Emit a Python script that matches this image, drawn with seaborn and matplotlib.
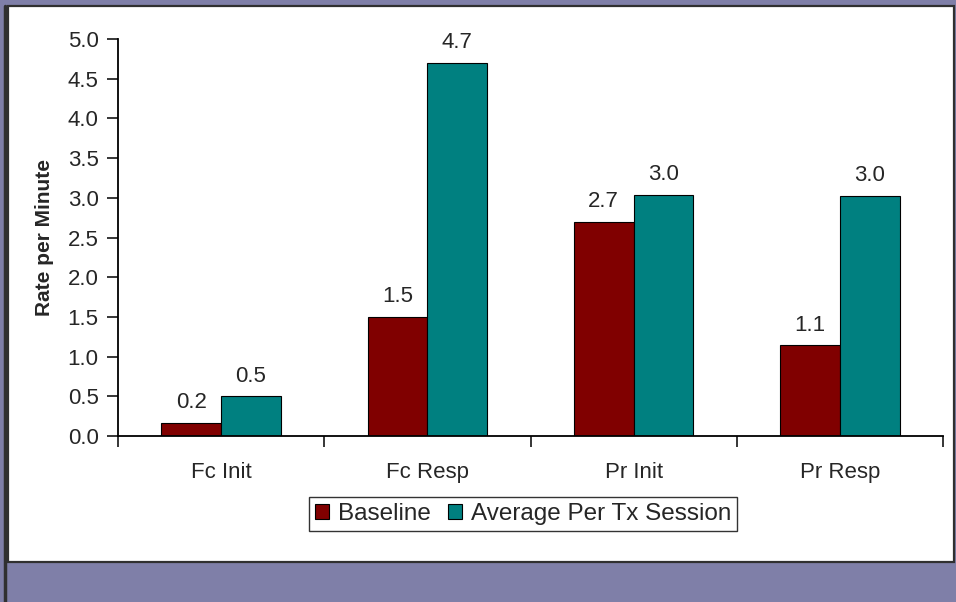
import matplotlib
matplotlib.use("Agg")
import matplotlib.pyplot as plt
from matplotlib.patches import Rectangle
from matplotlib.lines import Line2D
import seaborn as sns
import pandas as pd

# data
categories = ["Fc Init", "Fc Resp", "Pr Init", "Pr Resp"]
baseline = [0.17, 1.5, 2.7, 1.14]
average_tx = [0.5, 4.7, 3.04, 3.02]
series = ["Baseline", "Average Per Tx Session"]
colors = ["#800000", "#008080"]
yticks = [0.0, 0.5, 1.0, 1.5, 2.0, 2.5, 3.0, 3.5, 4.0, 4.5, 5.0]

df = pd.DataFrame({
    "cat": categories * 2,
    "series": [series[0]] * 4 + [series[1]] * 4,
    "value": baseline + average_tx,
})

sns.set_style("white")
plt.rcParams["font.family"] = ["Liberation Sans", "DejaVu Sans"]

W, H = 956, 602
fig = plt.figure(figsize=(W / 100, H / 100), dpi=100, facecolor="#7f7fa8")

# white panel with dark frame (behind the axes)
fig.patches.append(Rectangle((8 / W, 1 - 562 / H), 946 / W, 556 / H,
                             transform=fig.transFigure, facecolor="white",
                             edgecolor="#303030", linewidth=1.6, zorder=-2))
fig.lines.append(Line2D([5 / W, 5 / W], [0, 1 - 6 / H], transform=fig.transFigure,
                        color="#303030", linewidth=2.5, zorder=-1))

ax = fig.add_axes([118 / W, 1 - 436 / H, 825 / W, (436 - 39) / H])
ax.patch.set_alpha(0)

sns.barplot(data=df, x="cat", y="value", hue="series", palette=colors,
            width=0.58, edgecolor="black", linewidth=0.8, saturation=1,
            ax=ax, legend=False)

for c in ax.containers:
    ax.bar_label(c, fmt="%.1f", padding=7, fontsize=16)

ax.set_ylim(0, 5)
ax.set_xlim(-0.5, 3.5)
ax.set_yticks(yticks)
ax.set_yticklabels([f"{v:.1f}" for v in yticks])
ax.tick_params(axis="y", direction="out", length=8, width=1.3, pad=6,
               labelsize=16, left=True)

# major ticks between categories, labels at minor ticks
ax.set_xticks([-0.5, 0.5, 1.5, 2.5, 3.5])
ax.set_xticklabels([])
ax.set_xticks(range(len(categories)), minor=True)
ax.set_xticklabels(categories, minor=True)
ax.tick_params(axis="x", which="major", direction="out", length=8, width=1.3,
               bottom=True)
ax.tick_params(axis="x", which="minor", length=0, pad=19, labelsize=16)

for s in ["top", "right"]:
    ax.spines[s].set_visible(False)
for s in ["left", "bottom"]:
    ax.spines[s].set_linewidth(1.3)
    ax.spines[s].set_color("black")

ax.set_xlabel("")
ax.set_ylabel("Rate per Minute", fontsize=15, fontweight="bold", labelpad=10)

handles = [Rectangle((0, 0), 1, 1, facecolor=col, edgecolor="black", linewidth=0.8)
           for col in colors]
leg = fig.legend(handles, series, loc="center", bbox_to_anchor=(523 / W, 1 - 514 / H),
                 ncol=2, fontsize=17.5, frameon=True, fancybox=False,
                 handlelength=0.6, handleheight=0.6, handletextpad=0.35,
                 columnspacing=0.7, borderpad=0.25, borderaxespad=0)
leg.get_frame().set_edgecolor("black")
leg.get_frame().set_linewidth(1.0)

fig.savefig("out.png", dpi=100, facecolor=fig.get_facecolor())
